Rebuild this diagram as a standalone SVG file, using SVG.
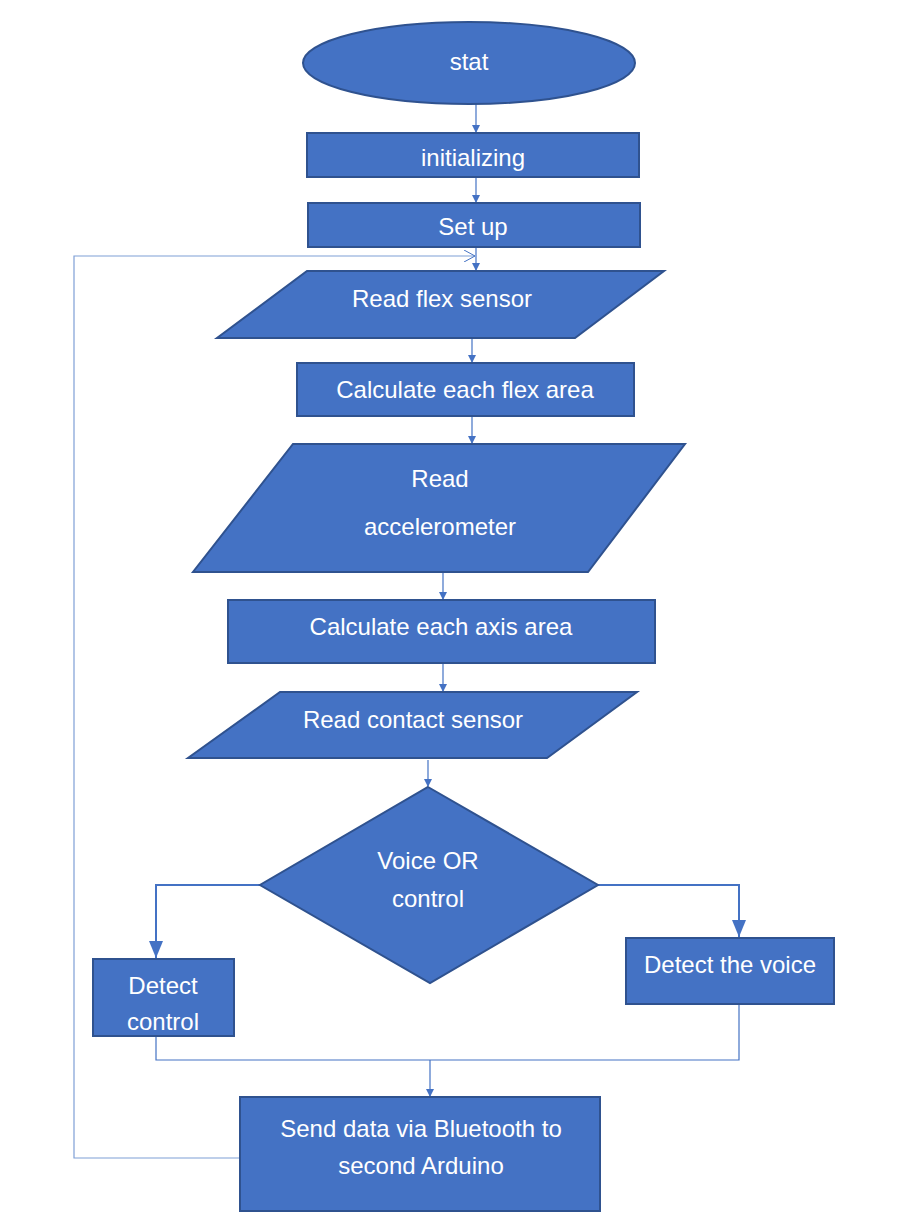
<svg xmlns="http://www.w3.org/2000/svg" width="900" height="1217" viewBox="0 0 900 1217">
<defs>
<marker id="ah" markerWidth="8" markerHeight="8" refX="7" refY="4" orient="auto" markerUnits="userSpaceOnUse"><path d="M0,0 L8,4 L0,8 Z" fill="#4472C4"/></marker>
<marker id="big" markerWidth="18" markerHeight="14" refX="17" refY="7" orient="auto" markerUnits="userSpaceOnUse"><path d="M0,0 L17,7 L0,14 Z" fill="#4472C4"/></marker>
<marker id="open" markerWidth="12" markerHeight="12" refX="11" refY="6" orient="auto" markerUnits="userSpaceOnUse"><path d="M0,0 L11,6 L0,12" fill="none" stroke="#4472C4" stroke-width="1"/></marker>
</defs>
<style>
.n{fill:#4472C4;stroke:#2F528F;stroke-width:2}
.t{fill:#fff;font-family:"Liberation Sans",Arial,sans-serif;font-size:24px;text-anchor:middle}
.c{fill:none;stroke:#4472C4;stroke-width:1.2}
.cb{fill:none;stroke:#4472C4;stroke-width:2}
.loop{fill:none;stroke:#7F9FD6;stroke-width:1.2}
</style>
<rect width="900" height="1217" fill="#fff"/>
<g id="connectors">
<line class="c" x1="476" y1="104" x2="476" y2="132" marker-end="url(#ah)"/>
<line class="c" x1="476" y1="178" x2="476" y2="202" marker-end="url(#ah)"/>
<line class="c" x1="476" y1="248" x2="476" y2="270" marker-end="url(#ah)"/>
<line class="c" x1="472" y1="338" x2="472" y2="362" marker-end="url(#ah)"/>
<line class="c" x1="472" y1="417" x2="472" y2="443" marker-end="url(#ah)"/>
<line class="c" x1="443" y1="573" x2="443" y2="599" marker-end="url(#ah)"/>
<line class="c" x1="443" y1="664" x2="443" y2="691" marker-end="url(#ah)"/>
<line class="c" x1="428" y1="760" x2="428" y2="786" marker-end="url(#ah)"/>
<polyline class="cb" points="260,885 156,885 156,958" marker-end="url(#big)"/>
<polyline class="cb" points="598,885 739,885 739,937" marker-end="url(#big)"/>
<polyline class="c" points="156,1037 156,1060 739,1060 739,1004"/>
<line class="c" x1="430" y1="1060" x2="430" y2="1096" marker-end="url(#ah)"/>
<polyline class="loop" points="240,1158 74,1158 74,256 475,256" marker-end="url(#open)"/>
</g>
<g id="start"><ellipse class="n" cx="469" cy="63" rx="166" ry="41"/><text class="t" x="469" y="70">stat</text></g>
<g id="init"><rect class="n" x="307" y="133" width="332" height="44"/><text class="t" x="473" y="166">initializing</text></g>
<g id="setup"><rect class="n" x="308" y="203" width="332" height="44"/><text class="t" x="473" y="235">Set up</text></g>
<g id="readflex"><polygon class="n" points="307,271 664,271 575,338 217,338"/><text class="t" x="442" y="307">Read flex sensor</text></g>
<g id="calcflex"><rect class="n" x="297" y="363" width="337" height="53"/><text class="t" x="465" y="398">Calculate each flex area</text></g>
<g id="readacc"><polygon class="n" points="293,444 685,444 588,572 193,572"/><text class="t" x="440" y="487">Read</text><text class="t" x="440" y="535">accelerometer</text></g>
<g id="calcaxis"><rect class="n" x="228" y="600" width="427" height="63"/><text class="t" x="441" y="635">Calculate each axis area</text></g>
<g id="readcontact"><polygon class="n" points="280,692 637,692 547,758 188,758"/><text class="t" x="413" y="728">Read contact sensor</text></g>
<g id="decision"><polygon class="n" points="428,787 598,885 430,983 260,885"/><text class="t" x="428" y="869">Voice OR</text><text class="t" x="428" y="907">control</text></g>
<g id="detectcontrol"><rect class="n" x="93" y="959" width="141" height="77"/><text class="t" x="163" y="994">Detect</text><text class="t" x="163" y="1030">control</text></g>
<g id="detectvoice"><rect class="n" x="626" y="938" width="208" height="66"/><text class="t" x="730" y="973">Detect the voice</text></g>
<g id="send"><rect class="n" x="240" y="1097" width="360" height="114"/><text class="t" x="421" y="1137">Send data via Bluetooth to</text><text class="t" x="421" y="1174">second Arduino</text></g>
</svg>
